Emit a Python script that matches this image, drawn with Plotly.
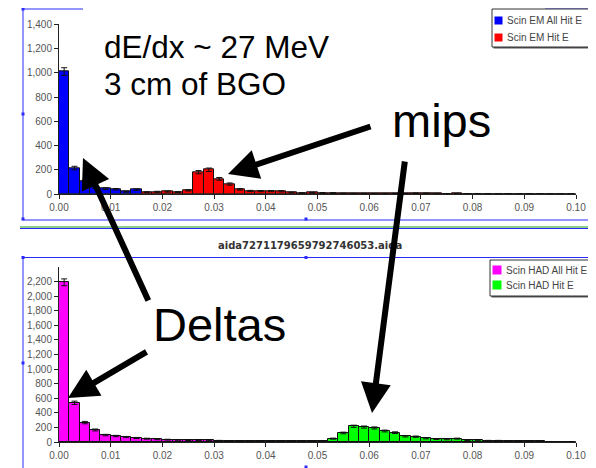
import plotly.graph_objects as go

# page body has an 8px margin; lay out in reference-pixel coordinates
OFF = 8
W, H = 596 - OFF, 468 - OFF
BIN = 0.002

# ---- data (bin counts, 0.002-wide bins starting at 0.0) ----
em_all_start = 0
em_all = [1010, 214, 103, 53, 44, 39, 19, 36]
em_hit_start = 8
em_hit = [15, 18, 20, 16, 30, 180, 200, 125, 82, 38, 25, 24, 24, 22, 12, 8, 10, 9, 8, 4,
          3, 3, 2, 2, 3, 2, 6, 5, 2, 1, 2, 1, 1, 1, 1, 1, 0, 1, 0, 0, 0, 0]
had_all_start = 0
had_all = [2190, 537, 266, 165, 95, 82, 68, 55, 45, 38, 32, 29, 26, 24, 22]
had_hit_start = 15
had_hit = [18, 16, 15, 14, 13, 14, 15, 12, 8, 8, 10, 46, 124, 216, 205, 193, 151, 128, 78, 73,
           50, 41, 37, 46, 23, 28, 18, 18, 14, 14, 12, 9, 3, 2, 1]

x_ticks = [0.00, 0.01, 0.02, 0.03, 0.04, 0.05, 0.06, 0.07, 0.08, 0.09, 0.10]
title_text = "aida7271179659792746053.aida"
em_names = ["Scin EM All Hit E", "Scin EM Hit E"]
had_names = ["Scin HAD All Hit E", "Scin HAD Hit E"]
em_colors = ["#0000ff", "#ff0000"]
had_colors = ["#ff00ff", "#00ff00"]


def centers(start, vals):
    return [(start + i + 0.5) * BIN for i in range(len(vals))]


def px(x):
    return (x - OFF) / W


def py(y):
    return 1 - (y - OFF) / H


FONT = "Liberation Sans, Arial, sans-serif"

fig = go.Figure()


def add_hist(start, vals, color, name, xa, ya):
    fig.add_trace(go.Bar(
        x=centers(start, vals), y=vals, width=BIN, name=name,
        marker=dict(color=color, line=dict(color="#111", width=1)),
        error_y=dict(type="sqrt", color="#111", thickness=1, width=3),
        xaxis=xa, yaxis=ya, showlegend=False,
    ))


add_hist(em_all_start, em_all, em_colors[0], em_names[0], "x", "y")
add_hist(em_hit_start, em_hit, em_colors[1], em_names[1], "x", "y")
add_hist(had_all_start, had_all, had_colors[0], had_names[0], "x2", "y2")
add_hist(had_hit_start, had_hit, had_colors[1], had_names[1], "x2", "y2")

xdom = [px(59), px(576)]
axis_common = dict(showgrid=False, zeroline=False, showline=True, linecolor="#222",
                   linewidth=1, ticks="outside", ticklen=4, tickcolor="#222",
                   automargin=False,
                   tickfont=dict(family=FONT, size=10, color="#555"))

fig.update_layout(
    width=W, height=H, margin=dict(l=0, r=0, t=0, b=0, autoexpand=False),
    paper_bgcolor="white", plot_bgcolor="white",
    barmode="overlay", bargap=0, showlegend=False,
    xaxis=dict(domain=xdom, range=[0, 0.1], tickvals=x_ticks, tickformat=".2f",
               anchor="y", **axis_common),
    yaxis=dict(domain=[py(194), py(24.3)], range=[0, 1400], dtick=200, tickformat=",",
               anchor="x", **axis_common),
    xaxis2=dict(domain=xdom, range=[0, 0.1], tickvals=x_ticks, tickformat=".2f",
                anchor="y2", **axis_common),
    yaxis2=dict(domain=[py(442), py(267)], range=[0, 2400], tickvals=list(range(0, 2201, 200)),
                tickformat=",", anchor="x2", **axis_common),
)

# ---- frame lines (selection boxes) ----
BLUE = "#2a2aff"
shapes = []
ann = []


def line(x0, y0, x1, y1, color=BLUE, w=1):
    shapes.append(dict(type="line", xref="paper", yref="paper",
                       x0=px(x0), y0=py(y0), x1=px(x1), y1=py(y1),
                       line=dict(color=color, width=w), layer="below"))


def rect(x0, y0, x1, y1, fill, lc=None, lw=0):
    shapes.append(dict(type="rect", xref="paper", yref="paper",
                       x0=px(x0), y0=py(y1), x1=px(x1), y1=py(y0),
                       line=dict(width=lw, color=lc or fill), fillcolor=fill))


def handle(x, y):
    rect(x - 1.5, y - 1.5, x + 1.5, y + 1.5, BLUE)


line(23, 9, 23, 220)
line(23, 9, 83, 9)
line(545, 9, 589.5, 9)
line(589.5, 9, 589.5, 220)
line(23, 220, 592, 220)
line(20, 227, 596, 227, color="#1a9a1a")
line(20, 228.5, 596, 228.5)
line(23, 257.5, 590, 257.5)
line(23, 257.5, 23, 468)
line(590, 257.5, 590, 468)
for hx, hy in [(23, 9), (23, 114), (23, 219), (589.5, 9), (589.5, 114), (306, 219),
               (23, 257.5), (306, 257.5), (590, 257.5), (23, 363), (590, 363), (306, 467)]:
    handle(hx, hy)


# ---- legends (boxed, small square swatches) ----
def legend_box(x0, y0, x1, y1, names, colors, rows, sq):
    rect(x0 + 1.5, y0 + 1.5, x1 + 1.5, y1 + 1.5, "#555")      # shadow
    rect(x0, y0, x1, y1, "white", lc="#333", lw=1)
    for name, col, yc in zip(names, colors, rows):
        rect(x0 + 2.5, yc - sq / 2, x0 + 2.5 + sq, yc + sq / 2, col)
        ann.append(dict(text=name, x=px(x0 + sq + 5), y=py(yc), xref="paper", yref="paper",
                        showarrow=False, xanchor="left", yanchor="middle",
                        font=dict(family=FONT, size=10, color="#444")))


legend_box(492, 9, 590, 47, em_names, em_colors, [20.5, 37.5], 8)
legend_box(490, 260, 589, 296, had_names, had_colors, [270, 285], 9)

fig.update_layout(shapes=shapes)

# ---- text & arrows ----
ann.append(dict(text="<b>" + title_text + "</b>", x=px(310), y=py(245), xref="paper",
                yref="paper", showarrow=False,
                font=dict(family="DejaVu Sans", size=10, color="#333"),
                xanchor="center", yanchor="middle"))
ann.append(dict(text="dE/dx ~ 27 MeV", x=px(102), y=py(47), xref="paper", yref="paper",
                showarrow=False, font=dict(family=FONT, size=31.5, color="black"),
                xanchor="left", yanchor="middle"))
ann.append(dict(text="3 cm of BGO", x=px(102), y=py(84), xref="paper", yref="paper",
                showarrow=False, font=dict(family=FONT, size=31.5, color="black"),
                xanchor="left", yanchor="middle"))
ann.append(dict(text="mips", x=px(441), y=py(120), xref="paper", yref="paper",
                showarrow=False, font=dict(family=FONT, size=47, color="black"),
                xanchor="center", yanchor="middle"))
ann.append(dict(text="Deltas", x=px(219), y=py(324), xref="paper", yref="paper",
                showarrow=False, font=dict(family=FONT, size=47, color="black"),
                xanchor="center", yanchor="middle"))

for (tx, ty), (hx, hy) in [((149, 302), (83, 158)), ((148, 351), (68, 398)),
                           ((372, 126), (228, 174)), ((405, 160), (372, 413))]:
    ann.append(dict(text="", x=px(hx), y=py(hy), xref="paper", yref="paper",
                    ax=tx - hx, ay=ty - hy, showarrow=True, arrowhead=2,
                    arrowsize=1.0, arrowwidth=6, arrowcolor="black", standoff=0))
fig.update_layout(annotations=ann)

fig.write_html("out.html")
